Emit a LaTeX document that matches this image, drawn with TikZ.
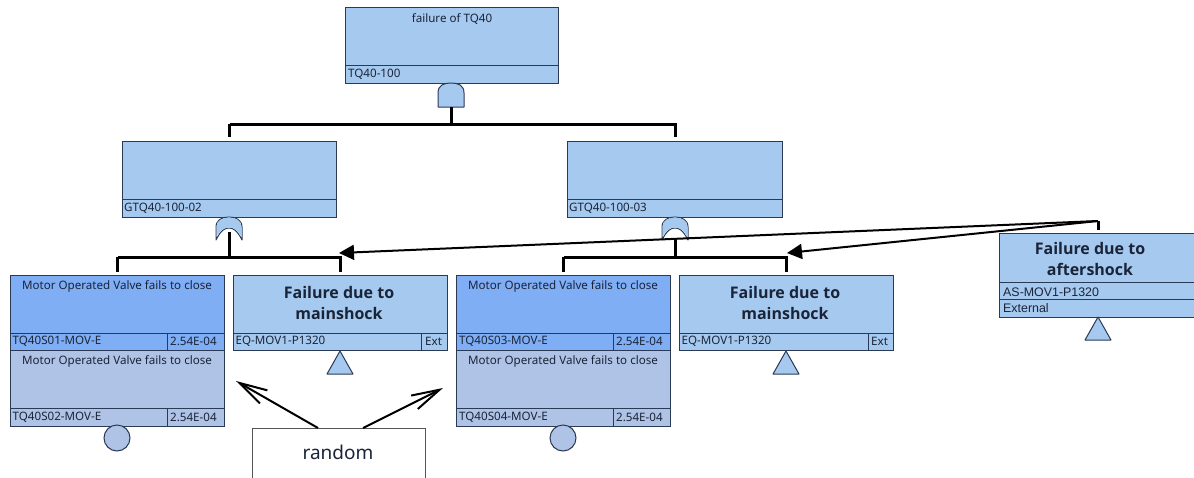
\documentclass[tikz,border=0pt]{standalone}
\usepackage{fontspec}
\setmainfont{Noto Sans}
\newfontfamily\arialfont{Liberation Sans}
\newfontfamily\headfont{Open Sans}
\usetikzlibrary{arrows.meta,calc}
\definecolor{boxblue}{HTML}{A6C9EF}
\definecolor{boxdeep}{HTML}{7FAEF5}
\definecolor{boxpale}{HTML}{AEC3E5}
\definecolor{edgec}{HTML}{2A3A55}
\definecolor{inkc}{HTML}{1A2438}
\definecolor{randedge}{HTML}{555555}
\tikzset{
  ftbox/.style={draw=edgec,line width=1.4pt,inner sep=0pt,anchor=north west},
  divline/.style={edgec,line width=1pt},
  smalltxt/.style={inner sep=0pt,text=inkc,font=\fontsize{11.6}{13}\selectfont},
  bigtxt/.style={inner sep=0pt,text=inkc,align=center,font=\headfont\bfseries\fontsize{16}{21}\selectfont},
  gateline/.style={edgec,line width=1pt,line join=round},
  bus/.style={black,line width=3pt,line join=miter},
  pointer/.style={black,line width=2pt,-{Triangle[length=15pt,width=15pt]}},
  openptr/.style={black,line width=2pt,-{Straight Barb[length=28pt,width=15pt,line width=2pt]}},
}
% name, x1, y1, width, height, fill
\newcommand{\ftnode}[6]{\node[ftbox,fill=#6,minimum width=#4pt,minimum height=#5pt] (#1) at (#2,#3) {};}
% name, centre x, top y
\newcommand{\andgate}[3]{%
  \coordinate (#1) at (#2,#3);
  \coordinate (#1-out) at (#2,#3+24);
  \draw[gateline,fill=boxblue] ($(#1)+(-13,24)$) -- ($(#1)+(-13,10)$) .. controls ($(#1)+(-13,2)$) and ($(#1)+(-7,0)$) .. ($(#1)+(0,0)$) .. controls ($(#1)+(7,0)$) and ($(#1)+(13,2)$) .. ($(#1)+(13,10)$) -- ($(#1)+(13,24)$) -- cycle;}
\newcommand{\orgate}[3]{%
  \coordinate (#1) at (#2,#3);
  \coordinate (#1-out) at (#2,#3+22);
  \draw[gateline,fill=white] ($(#1)+(-13,23)$) -- ($(#1)+(-13,10)$) .. controls ($(#1)+(-13,3)$) and ($(#1)+(-7,0)$) .. ($(#1)+(0,0)$) .. controls ($(#1)+(7,0)$) and ($(#1)+(13,3)$) .. ($(#1)+(13,10)$) -- ($(#1)+(13,23)$) .. controls ($(#1)+(8,13)$) and ($(#1)+(4,11)$) .. ($(#1)+(0,11)$) .. controls ($(#1)+(-4,11)$) and ($(#1)+(-8,13)$) .. ($(#1)+(-13,23)$) -- cycle;
  \fill[boxblue] ($(#1)+(-12.4,19.5)$) -- ($(#1)+(-12.4,10)$) .. controls ($(#1)+(-12.4,3.5)$) and ($(#1)+(-7,0.6)$) .. ($(#1)+(0,0.6)$) .. controls ($(#1)+(7,0.6)$) and ($(#1)+(12.4,3.5)$) .. ($(#1)+(12.4,10)$) -- ($(#1)+(12.4,19.5)$) .. controls ($(#1)+(8,12.5)$) and ($(#1)+(4,10.4)$) .. ($(#1)+(0,10.4)$) .. controls ($(#1)+(-4,10.4)$) and ($(#1)+(-8,12.5)$) .. ($(#1)+(-12.4,19.5)$) -- cycle;}
\newcommand{\tritransfer}[3]{%
  \coordinate (#1) at (#2,#3);
  \draw[gateline,fill=boxblue] ($(#1)$) -- ($(#1)+(13,23)$) -- ($(#1)+(-13,23)$) -- cycle;}
\begin{document}
\begin{tikzpicture}[x=1pt,y=-1pt]
\useasboundingbox (0,0) rectangle (1194,477);
% top gate
\ftnode{top}{345}{7}{213}{76}{boxblue}
\draw[divline] (345,65.5) -- (558,65.5);
\node[smalltxt,anchor=center] (toptxt) at (452,19) {failure of TQ40};
\node[smalltxt,anchor=west] (topid) at (348,74.5) {TQ40-100};
\andgate{gA}{451}{83}
% middle
\ftnode{midL}{122}{141}{214}{76}{boxblue}
\draw[divline] (122,199.5) -- (336,199.5);
\node[smalltxt,anchor=west] (midLid) at (124,208.5) {GTQ40-100-02};
\ftnode{midR}{567}{141}{215}{76}{boxblue}
\draw[divline] (567,199.5) -- (782,199.5);
\node[smalltxt,anchor=west] (midRid) at (569,208.5) {GTQ40-100-03};
\orgate{gL}{229}{217}
\orgate{gR}{675}{217}
% bottom left
\ftnode{s1}{10}{274.5}{214}{75}{boxdeep}
\draw[divline] (10,333) -- (224,333); \draw[divline] (167,333) -- (167,349.5);
\node[smalltxt] (s1t) at (117,286) {Motor Operated Valve fails to close};
\node[smalltxt,anchor=west] (s1i) at (12.5,341.5) {TQ40S01-MOV-E};
\node[smalltxt,anchor=west] (s1p) at (170,341.5) {2.54E-04};
\ftnode{s2}{10}{350}{214}{75.5}{boxpale}
\draw[divline] (10,408.7) -- (224,408.7); \draw[divline] (167,408.7) -- (167,425.5);
\node[smalltxt] (s2t) at (117,361.5) {Motor Operated Valve fails to close};
\node[smalltxt,anchor=west] (s2i) at (12.5,417) {TQ40S02-MOV-E};
\node[smalltxt,anchor=west] (s2p) at (170,417) {2.54E-04};
\node[draw=edgec,line width=1pt,fill=boxpale,circle,minimum size=26pt,inner sep=0pt] (c1) at (117,438) {};
\ftnode{e1}{233}{274.5}{214}{75}{boxblue}
\draw[divline] (233,333) -- (447,333); \draw[divline] (421.7,333) -- (421.7,349.5);
\node[bigtxt] (e1t) at (339,303) {Failure due to\\mainshock};
\node[smalltxt,anchor=west] (e1i) at (235.5,341.5) {EQ-MOV1-P1320};
\node[smalltxt,anchor=west] (e1x) at (425,341.5) {Ext};
\tritransfer{t1}{340}{351}
% bottom right
\ftnode{s3}{456}{274.5}{214}{75}{boxdeep}
\draw[divline] (456,333) -- (670,333); \draw[divline] (613,333) -- (613,349.5);
\node[smalltxt] (s3t) at (563,286) {Motor Operated Valve fails to close};
\node[smalltxt,anchor=west] (s3i) at (459,341.5) {TQ40S03-MOV-E};
\node[smalltxt,anchor=west] (s3p) at (616,341.5) {2.54E-04};
\ftnode{s4}{456}{350}{214}{75.5}{boxpale}
\draw[divline] (456,408.7) -- (670,408.7); \draw[divline] (613,408.7) -- (613,425.5);
\node[smalltxt] (s4t) at (563,361.5) {Motor Operated Valve fails to close};
\node[smalltxt,anchor=west] (s4i) at (459,417) {TQ40S04-MOV-E};
\node[smalltxt,anchor=west] (s4p) at (616,417) {2.54E-04};
\node[draw=edgec,line width=1pt,fill=boxpale,circle,minimum size=26pt,inner sep=0pt] (c2) at (563,438) {};
\ftnode{e2}{679}{274.5}{214}{75}{boxblue}
\draw[divline] (679,333) -- (893,333); \draw[divline] (868,333) -- (868,349.5);
\node[bigtxt] (e2t) at (785,303) {Failure due to\\mainshock};
\node[smalltxt,anchor=west] (e2i) at (681.5,341.5) {EQ-MOV1-P1320};
\node[smalltxt,anchor=west] (e2x) at (871,341.5) {Ext};
\tritransfer{t2}{786}{351}
% aftershock
\ftnode{af}{999}{233}{195}{84}{boxblue}
\draw[divline] (999,282) -- (1194,282); \draw[divline] (999,299) -- (1194,299);
\node[bigtxt] (aft) at (1090,259) {Failure due to\\aftershock};
\node[smalltxt,anchor=west,font=\arialfont\fontsize{12.4}{14}\selectfont] (afi) at (1003,292) {AS-MOV1-P1320};
\node[smalltxt,anchor=west,font=\arialfont\fontsize{12.4}{14}\selectfont] (afx) at (1003,308.5) {External};
\tritransfer{t3}{1098}{317}
% random
\node[draw=randedge,line width=1pt,fill=white,inner sep=0pt,anchor=north west,minimum width=173pt,minimum height=60pt] (rand) at (252,428) {};
\node[inner sep=0pt,text=inkc,font=\fontsize{19}{21}\selectfont] (randt) at (338,452) {random};
% bus connectors
\coordinate (busA) at (451,124);
\coordinate (busL) at (229,257);
\coordinate (busR) at (675,257);
\draw[bus] (gA-out) -- (busA);
\draw[bus,shorten >=4pt] (midL.north |- busA) -- (midR.north |- busA) -- (midR.north);
\draw[bus,shorten >=4pt] (midL.north |- busA) -- (midL.north);
\draw[bus] (gL-out) ++(0,-7) -- (busL);
\draw[bus] (gR-out) ++(0,-1) -- (busR);
\draw[bus,shorten >=2.5pt] (s1.north |- busL) -- (s1.north);
\draw[bus,shorten >=2.5pt] (s1.north |- busL) -- (e1.north |- busL) -- (e1.north);
\draw[bus,shorten >=2.5pt] (s3.north |- busR) -- (s3.north);
\draw[bus,shorten >=2.5pt] (s3.north |- busR) -- (e2.north |- busR) -- (e2.north);
% aftershock pointers
\coordinate (afStem) at (1098,230);
\coordinate (afBend) at (1098,221);
\coordinate (tipL) at (339,253);
\coordinate (tipR) at (787,253);
\draw[black,line width=3pt] (afStem) -- (afBend);
\draw[pointer] (afBend) -- (tipL);
\draw[pointer] (afBend) -- (tipR);
% random pointers
\coordinate (rndL) at (236,381);
\coordinate (rndR) at (443,388);
\draw[openptr] (318,428) -- (rndL);
\draw[openptr] (363,428) -- (rndR);
\end{tikzpicture}
\end{document}
